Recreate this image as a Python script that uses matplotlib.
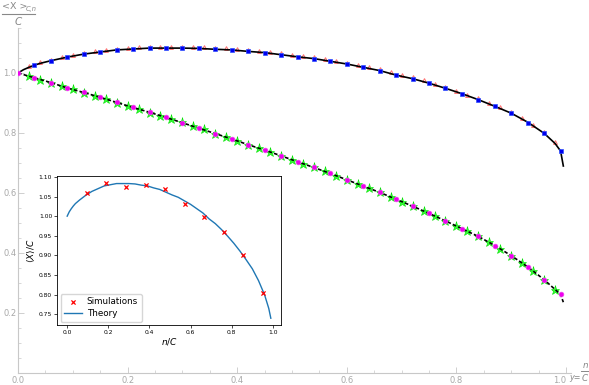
import numpy as np
import matplotlib
matplotlib.use('Agg')
import matplotlib.pyplot as plt
from matplotlib.lines import Line2D
from matplotlib.ticker import MultipleLocator

# upper curve: theory line, blue squares (step 0.03), red triangles (step 0.02)
up_th_x = [0, 0.01, 0.02, 0.03, 0.04, 0.06, 0.09, 0.12, 0.15, 0.18, 0.21, 0.24, 0.27, 0.30,
           0.33, 0.36, 0.39, 0.42, 0.45, 0.48, 0.51, 0.54, 0.57, 0.60, 0.63, 0.66, 0.69,
           0.72, 0.75, 0.78, 0.81, 0.84, 0.87, 0.90, 0.93, 0.96, 0.98, 0.99, 0.995]
up_th_y = [1.0, 1.011, 1.019, 1.026, 1.032, 1.041, 1.053, 1.063, 1.070, 1.077, 1.080, 1.083,
           1.083, 1.083, 1.082, 1.079, 1.077, 1.072, 1.068, 1.061, 1.054, 1.048, 1.039, 1.030,
           1.019, 1.008, 0.993, 0.981, 0.966, 0.949, 0.931, 0.911, 0.889, 0.866, 0.836, 0.799,
           0.765, 0.740, 0.690]
sq_x = np.linspace(0.03, 0.99, 33)
sq_y = [1.027, 1.040, 1.053, 1.063, 1.070, 1.077, 1.080, 1.083, 1.083, 1.083, 1.082, 1.079,
        1.077, 1.072, 1.068, 1.061, 1.054, 1.048, 1.039, 1.030, 1.019, 1.008, 0.993, 0.981,
        0.966, 0.949, 0.931, 0.911, 0.889, 0.866, 0.834, 0.799, 0.740]
tri_x = np.linspace(0.02, 0.98, 49)
tri_y = [1.023, 1.036, 1.044, 1.053, 1.060, 1.067, 1.072, 1.076, 1.081, 1.083,
         1.085, 1.087, 1.087, 1.087, 1.087, 1.086, 1.085, 1.083, 1.082, 1.079,
         1.076, 1.073, 1.070, 1.065, 1.060, 1.056, 1.052, 1.046, 1.040, 1.034,
         1.027, 1.019, 1.012, 1.002, 0.993, 0.985, 0.975, 0.964, 0.953, 0.941,
         0.928, 0.915, 0.900, 0.885, 0.870, 0.849, 0.826, 0.803, 0.769]

# lower curve: dashed theory, magenta dots (step 0.03), green stars (step 0.02)
dot_x = np.linspace(0.0, 0.99, 34)
dot_y = [1.0, 0.984, 0.968, 0.950, 0.935, 0.919, 0.902, 0.885, 0.869, 0.852, 0.834, 0.816,
         0.798, 0.780, 0.761, 0.743, 0.724, 0.704, 0.685, 0.665, 0.644, 0.623, 0.602, 0.579,
         0.556, 0.532, 0.507, 0.481, 0.455, 0.425, 0.391, 0.354, 0.311, 0.262]
lo_th_x = list(dot_x) + [0.995]
lo_th_y = dot_y + [0.236]
star_x = np.linspace(0.02, 0.98, 49)
star_y = [0.989, 0.978, 0.967, 0.956, 0.945, 0.934, 0.923, 0.912, 0.901, 0.890,
          0.879, 0.868, 0.857, 0.846, 0.835, 0.824, 0.812, 0.798, 0.786, 0.774,
          0.761, 0.749, 0.737, 0.724, 0.711, 0.698, 0.685, 0.672, 0.658, 0.644,
          0.630, 0.616, 0.602, 0.587, 0.571, 0.556, 0.540, 0.524, 0.507, 0.490,
          0.472, 0.455, 0.435, 0.414, 0.391, 0.367, 0.340, 0.311, 0.278]

# inset
sim_x = np.linspace(1, 10, 10) / 10.5
sim_y = [1.059, 1.085, 1.075, 1.079, 1.068, 1.031, 0.999, 0.959, 0.901, 0.805]
ins_th_x = up_th_x[:-1]
ins_th_y = up_th_y[:-1]

grey = '#a8a8a8'
fig = plt.figure(figsize=(5.89, 3.85), dpi=100)
ax = fig.add_axes([18/589, 12/385, 553/589, 345/385])
ax.set_xlim(0, 1.009)
ax.set_ylim(0, 1.15)

ax.plot(tri_x, tri_y, ls='none', marker='^', ms=2.8, mfc='none', mec='#ff7070', mew=0.7, zorder=2)
ax.plot(star_x, star_y, ls='none', marker='*', ms=6.8, mfc='#33ff33', mec='#00dd00', mew=0.4, zorder=2)
ax.plot(up_th_x, up_th_y, color='black', lw=1.2, zorder=3)
ax.plot(lo_th_x, lo_th_y, color='black', lw=1.2, ls=(0, (2.2, 1.3)), zorder=3)
ax.plot(sq_x, sq_y, ls='none', marker='s', ms=3.4, mfc='#0000f0', mec='#3050ff', mew=0.5, zorder=4)
ax.plot(dot_x, dot_y, ls='none', marker='o', ms=3.4, mfc='#ee00ee', mec='#f040f0', mew=0.5, zorder=4)

for s in ['top', 'right']:
    ax.spines[s].set_visible(False)
for s in ['left', 'bottom']:
    ax.spines[s].set_color('#c8c8c8')
    ax.spines[s].set_linewidth(0.8)
ax.xaxis.set_minor_locator(MultipleLocator(0.05))
ax.yaxis.set_minor_locator(MultipleLocator(0.05))
ax.tick_params(which='both', direction='in', colors='#c8c8c8', labelcolor=grey, labelsize=6)
ax.tick_params(which='major', length=4, width=0.6)
ax.tick_params(which='minor', length=2, width=0.5)
ax.tick_params(axis='x', pad=2)
ax.tick_params(axis='y', pad=1)
ax.set_xticks([0.0, 0.2, 0.4, 0.6, 0.8, 1.0])
ax.set_xticklabels(['0.0', '0.2', '0.4', '0.6', '0.8', '1.0'])
ax.get_xticklabels()[-1].set_horizontalalignment('right')
ax.set_yticks([0.2, 0.4, 0.6, 0.8, 1.0])
ax.set_yticklabels(['0.2', '0.4', '0.6', '0.8', '1.0'])

# y axis label as a stacked fraction
lab = '#888888'
fig.text(2/589, 1 - 9/385, '<X >', fontsize=6.8, color=lab, ha='left', va='baseline')
fig.text(26/589, 1 - 11/385, 'C,n', fontsize=4.8, color=lab, style='italic', ha='left', va='baseline')
fig.add_artist(Line2D([2/589, 35/589], [1 - 13.5/385, 1 - 13.5/385], color=lab, lw=0.8))
fig.text(18/589, 1 - 22/385, 'C', fontsize=7.5, color=lab, style='italic', ha='center', va='center')

# x axis label
fig.text(569/589, 1 - 380/385, 'y=', fontsize=5.8, color=lab, style='italic', ha='left', va='baseline')
fig.add_artist(Line2D([580.5/589, 589/589], [1 - 371/385, 1 - 371/385], color=lab, lw=0.7))
fig.text(585/589, 1 - 365/385, 'n', fontsize=6.3, color=lab, style='italic', ha='center', va='center')
fig.text(585/589, 1 - 378.5/385, 'C', fontsize=6.3, color=lab, style='italic', ha='center', va='center')

# inset axes
ins = fig.add_axes([57/589, 1 - 325/385, 224/589, 149/385])
ins.scatter(sim_x, sim_y, marker='x', color='red', s=9, lw=0.9, label='Simulations', zorder=3)
ins.plot(ins_th_x, ins_th_y, color='#1f77b4', lw=1.0, label='Theory')
ins.set_xticks([0.0, 0.2, 0.4, 0.6, 0.8, 1.0])
ins.set_yticks([0.75, 0.80, 0.85, 0.90, 0.95, 1.00, 1.05, 1.10])
ins.tick_params(labelsize=4.3, length=2, width=0.5, pad=1.5)
for s in ins.spines.values():
    s.set_linewidth(0.6)
ins.set_xlabel(r'$n/C$', fontsize=6.5, labelpad=1)
ins.set_ylabel(r'$\langle X\rangle/C$', fontsize=6.5, labelpad=1)
ins.legend(loc='lower left', fontsize=6.3, handlelength=2, borderpad=0.4,
           labelspacing=0.3, handletextpad=0.6, borderaxespad=0.4)

fig.savefig('out.png', dpi=100)
